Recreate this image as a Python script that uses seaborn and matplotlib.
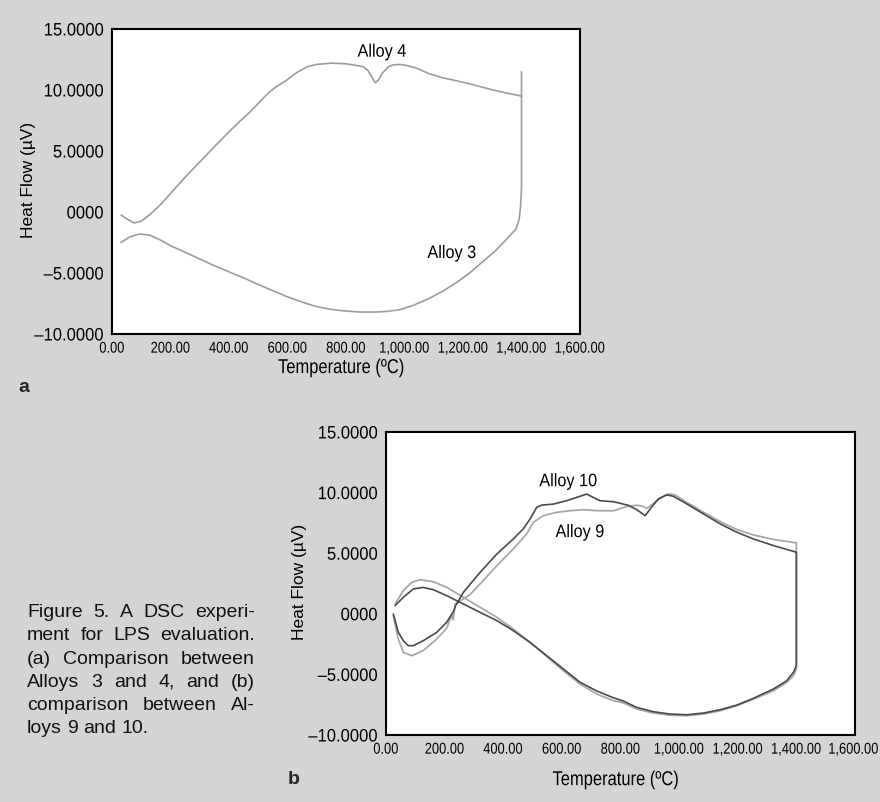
import matplotlib
matplotlib.use("Agg")
import matplotlib.pyplot as plt
import seaborn as sns
from matplotlib.patheffects import AbstractPathEffect
from matplotlib.transforms import Affine2D, ScaledTranslation

W, H = 880, 803

# panel a: DSC traces, Alloys 3 and 4
alloy4_temp = [31, 50, 75, 100, 130, 170, 203, 250, 300, 350, 399, 440, 472, 500, 532, 560, 594,
               630, 667, 700, 752, 800, 838, 860, 875, 890, 900, 910, 925, 945, 960, 985, 1009,
               1040, 1083, 1130, 1180, 1240, 1302, 1350, 1400]
alloy4_flow = [-0.25, -0.55, -0.9, -0.75, -0.2, 0.7, 1.6, 2.85, 4.1, 5.35, 6.55, 7.5, 8.2, 8.9, 9.7,
               10.25, 10.75, 11.4, 11.9, 12.1, 12.2, 12.15, 12.0, 11.9, 11.6, 11.0, 10.6, 10.8, 11.4,
               11.9, 12.05, 12.1, 12.0, 11.8, 11.35, 11.0, 10.75, 10.4, 10.0, 9.75, 9.5]

alloy3_temp = [31, 60, 93, 130, 170, 203, 250, 300, 350, 399, 450, 496, 545, 594, 640, 691, 740,
               789, 850, 899, 940, 985, 1030, 1083, 1130, 1180, 1225, 1266, 1310, 1350, 1381,
               1392, 1397, 1400, 1400]
alloy3_flow = [-2.5, -2.05, -1.8, -1.9, -2.35, -2.8, -3.3, -3.85, -4.4, -4.9, -5.4, -5.9, -6.4, -6.9,
               -7.3, -7.7, -7.95, -8.1, -8.2, -8.2, -8.15, -8.0, -7.65, -7.1, -6.5, -5.75, -4.95,
               -4.1, -3.2, -2.2, -1.4, -0.6, 0.5, 2.0, 11.5]

# panel b: heating then cooling loop, Alloys 9 and 10
alloy10_temp = [25, 42, 59, 76, 93, 127, 173, 207, 232, 236, 264, 321, 378, 434, 468, 491, 514, 531,
                571, 616, 650, 685, 707, 730, 776, 827, 855, 884, 906, 929, 957, 980, 1026, 1083,
                1140, 1197, 1253, 1322, 1400,
                1400, 1390, 1367, 1322, 1253, 1197, 1140, 1083, 1026, 969, 912, 855, 810, 776, 719,
                662, 605, 548, 491, 434, 378, 321, 264, 207, 161, 127, 93, 59, 31]
alloy10_flow = [-0.02, -1.53, -2.22, -2.63, -2.63, -2.22, -1.53, -0.7, 0.26, 0.6, 1.77, 3.42, 4.93, 6.17,
                7.0, 7.8, 8.78, 8.97, 9.05, 9.33, 9.6, 9.88, 9.6, 9.33, 9.25, 8.95, 8.6, 8.1, 8.79, 9.48,
                9.81, 9.7, 9.07, 8.24, 7.42, 6.73, 6.18, 5.63, 5.08,
                -4.28, -4.83, -5.52, -6.2, -6.98, -7.53, -7.91, -8.19, -8.33, -8.27, -8.08, -7.72, -7.2,
                -6.93, -6.37, -5.65, -4.55, -3.45, -2.35, -1.39, -0.56, 0.12, 0.81, 1.5, 1.99, 2.18,
                2.05, 1.36, 0.67]

alloy9_temp = [25, 42, 59, 88, 127, 173, 207, 224, 229, 236, 287, 321, 378, 434, 480, 503, 537, 582,
               628, 674, 719, 776, 821, 855, 878, 889, 912, 935, 963, 986, 1026, 1083, 1140, 1197,
               1253, 1322, 1400,
               1400, 1390, 1367, 1322, 1253, 1197, 1140, 1083, 1026, 969, 912, 855, 810, 776, 719,
               662, 605, 548, 491, 434, 378, 321, 264, 207, 161, 116, 88, 59, 31]
alloy9_flow = [-0.15, -2.08, -3.18, -3.46, -3.04, -2.08, -1.2, -0.1, -0.5, 0.8, 1.6, 2.46, 3.97, 5.35,
               6.59, 7.55, 8.1, 8.37, 8.51, 8.59, 8.51, 8.5, 8.85, 8.96, 8.85, 8.68, 9.1, 9.53, 9.89,
               9.81, 9.2, 8.38, 7.61, 6.95, 6.51, 6.13, 5.85,
               -4.56, -5.11, -5.66, -6.35, -7.04, -7.59, -8.0, -8.27, -8.41, -8.36, -8.19, -7.86,
               -7.35, -7.17, -6.62, -5.79, -4.69, -3.51, -2.35, -1.25, -0.29, 0.54, 1.36, 2.19, 2.65,
               2.81, 2.6, 1.91, 0.81]

x_ticks = [0, 200, 400, 600, 800, 1000, 1200, 1400, 1600]
x_labels = ["0.00", "200.00", "400.00", "600.00", "800.00", "1,000.00", "1,200.00",
            "1,400.00", "1,600.00"]
y_ticks = [-10, -5, 0, 5, 10, 15]
y_labels = ["\u201310.0000", "\u20135.0000", "0000", "5.0000", "10.0000", "15.0000"]

caption = [
    "Figure 5. A DSC experi-",
    "ment for LPS evaluation.",
    "(a) Comparison between",
    "Alloys 3 and 4, and (b)",
    "comparison between Al-",
    "loys 9 and 10.",
]


class Squeeze(AbstractPathEffect):
    """Narrow a text horizontally (no condensed font installed)."""

    def __init__(self, sx, anchor="center"):
        super().__init__()
        self.sx = sx
        self.anchor = anchor

    def draw_path(self, renderer, gc, tpath, affine, rgbFace=None):
        ext = tpath.get_extents(affine)
        cx = ext.x1 if self.anchor == "right" else (ext.x0 + ext.x1) / 2
        aff = affine + Affine2D().translate(-cx, 0).scale(self.sx, 1).translate(cx, 0)
        renderer.draw_path(gc, tpath, aff, rgbFace)


sns.set_theme(style="white")
plt.rcParams["font.family"] = ["Liberation Sans", "DejaVu Sans"]

fig = plt.figure(figsize=(W / 100, H / 100), dpi=100, facecolor="#d3d4d6")
ax_a = fig.add_axes([112 / W, 1 - 335 / H, 468 / W, 305 / H])
ax_b = fig.add_axes([386 / W, 1 - 736 / H, 469 / W, 303 / H])


def style_axes(ax):
    ax.set_facecolor("white")
    ax.set_xlim(0, 1600)
    ax.set_ylim(-10, 15)
    ax.set_xticks(x_ticks)
    ax.set_xticklabels(x_labels, fontsize=11.3)
    ax.set_yticks(y_ticks)
    ax.set_yticklabels(y_labels, fontsize=13)
    ax.tick_params(axis="both", direction="in", length=9.4, width=1.0, color="black",
                   labelcolor="black")
    ax.tick_params(axis="y", pad=5.8)
    ax.tick_params(axis="x", pad=4.8)
    for t in ax.xaxis.get_major_ticks():
        t.label1.set_path_effects([Squeeze(0.82)])
    for t in ax.yaxis.get_major_ticks():
        t.label1.set_path_effects([Squeeze(0.92, "right")])
    for s in ax.spines.values():
        s.set_visible(True)
        s.set_color("black")
        s.set_linewidth(1.5)
    ax.set_ylabel("Heat Flow (\u00b5V)", fontsize=12.5, color="black")
    ax.set_xlabel("Temperature (\u00baC)", fontsize=14.5, color="black",
                  path_effects=[Squeeze(0.82)])


style_axes(ax_a)
sns.lineplot(x=alloy4_temp, y=alloy4_flow, sort=False, estimator=None, color="#9c9c9c", lw=1.2, ax=ax_a)
sns.lineplot(x=alloy3_temp, y=alloy3_flow, sort=False, estimator=None, color="#9c9c9c", lw=1.2, ax=ax_a)
ax_a.text(923, 13.1, "Alloy 4", ha="center", va="center", fontsize=13, color="black",
          path_effects=[Squeeze(0.9)])
ax_a.text(1162, -3.4, "Alloy 3", ha="center", va="center", fontsize=13, color="black",
          path_effects=[Squeeze(0.9)])
ax_a.yaxis.set_label_coords(-0.162, 0.51)
ax_a.xaxis.set_label_coords(0.49, -0.079)

style_axes(ax_b)
sns.lineplot(x=alloy9_temp, y=alloy9_flow, sort=False, estimator=None, color="#a8a8a8", lw=1.3, ax=ax_b)
sns.lineplot(x=alloy10_temp, y=alloy10_flow, sort=False, estimator=None, color="#4a4a4a", lw=1.2, ax=ax_b)
ax_b.text(622, 10.9, "Alloy 10", ha="center", va="center", fontsize=13, color="black",
          path_effects=[Squeeze(0.9)])
ax_b.text(662, 6.7, "Alloy 9", ha="center", va="center", fontsize=13, color="black",
          path_effects=[Squeeze(0.9)])
ax_b.yaxis.set_label_coords(-0.168, 0.51)
ax_b.xaxis.set_label_coords(0.49, -0.116)

# last label of panel b sits at the figure edge: anchor it by its right side
last = ax_b.xaxis.get_major_ticks()[-1].label1
last.set_horizontalalignment("right")
last.set_path_effects([Squeeze(0.82, "right")])
last.set_transform(last.get_transform() + ScaledTranslation(0.24, 0, fig.dpi_scale_trans))

fig.text(18 / W, 1 - 388 / H, "a", fontsize=14, fontweight="bold", ha="left", va="center")
fig.text(288 / W, 1 - 780 / H, "b", fontsize=14, fontweight="bold", ha="left", va="center")

# justified caption, placed word by word
renderer = fig.canvas.get_renderer()
left, right = 27, 255
for i, line in enumerate(caption):
    base = 617 + 23.3 * i
    words = line.split(" ")
    objs = [fig.text(0, 1 - base / H, w, fontsize=14, ha="left", va="baseline", color="#111111")
            for w in words]
    widths = [o.get_window_extent(renderer).width for o in objs]
    if i == len(caption) - 1:
        gap = 14 * 0.278 * 100 / 72
    else:
        gap = (right - left - sum(widths)) / (len(words) - 1)
    x = left
    for o, wd in zip(objs, widths):
        o.set_x(x / W)
        x += wd + gap

fig.savefig("out.png", dpi=100, facecolor=fig.get_facecolor())
